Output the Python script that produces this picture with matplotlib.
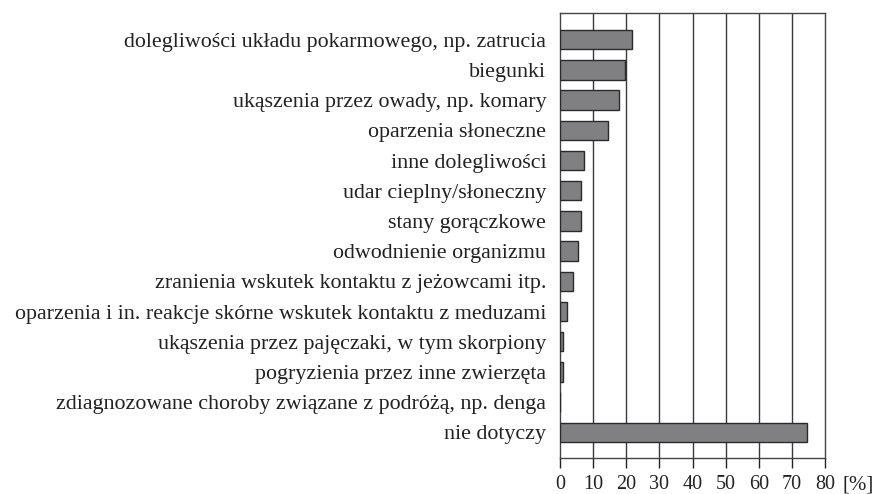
import matplotlib.pyplot as plt
import numpy as np

# Kategorie i wartości [%]
categories = [
    "dolegliwości układu pokarmowego, np. zatrucia",
    "biegunki",
    "ukąszenia przez owady, np. komary",
    "oparzenia słoneczne",
    "inne dolegliwości",
    "udar cieplny/słoneczny",
    "stany gorączkowe",
    "odwodnienie organizmu",
    "zranienia wskutek kontaktu z jeżowcami itp.",
    "oparzenia i in. reakcje skórne wskutek kontaktu z meduzami",
    "ukąszenia przez pajęczaki, w tym skorpiony",
    "pogryzienia przez inne zwierzęta",
    "zdiagnozowane choroby związane z podróżą, np. denga",
    "nie dotyczy",
]
values = [21.7, 19.7, 17.8, 14.5, 7.1, 6.4, 6.4, 5.4, 4.0, 2.0, 1.0, 1.0, 0.0, 74.6]
x_ticks = [0, 10, 20, 30, 40, 50, 60, 70, 80]

plt.rcParams["font.family"] = ["Liberation Serif", "DejaVu Serif"]

fig = plt.figure(figsize=(8.8, 4.94), dpi=100)
ax = fig.add_axes([0.6364, 0.0729, 0.3011, 0.8998])

y = np.arange(len(categories))
ax.barh(y, values, height=0.64, color="#808083", edgecolor="#2a2a2a",
        linewidth=1.0, zorder=3)

for xv in x_ticks[1:-1]:
    ax.axvline(xv, color="#3a3a3a", linewidth=1.0, zorder=1)

ax.set_xlim(0, 80)
ax.set_ylim(len(categories) - 1 + 0.85, -0.87)
ax.set_xticks(x_ticks)
ax.set_xticklabels([str(v) for v in x_ticks], fontsize=14.5, color="#222222")
ax.set_yticks(y)
ax.set_yticklabels(categories, fontsize=15.8, color="#222222")

ax.tick_params(axis="y", length=0, pad=10)
ax.tick_params(axis="x", length=7, width=1.0, color="#222222", pad=5.5)

for side in ["top", "right", "bottom", "left"]:
    ax.spines[side].set_color("#444444")
    ax.spines[side].set_linewidth(1.0)

fig.text(842 / 880, 4.5 / 494, "[%]", fontsize=15, color="#222222",
         ha="left", va="baseline")

fig.savefig("out.png", dpi=100)
